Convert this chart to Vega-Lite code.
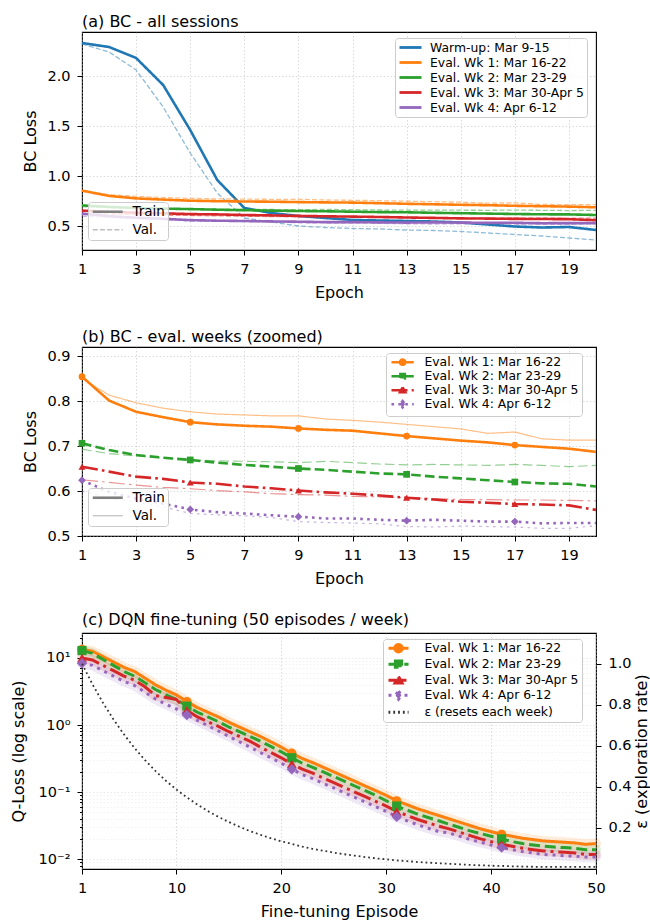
{
  "$schema": "https://vega.github.io/schema/vega-lite/v6.json",
  "background": "white",
  "padding": {"left": 9, "top": 13, "right": 0, "bottom": 5},
  "bounds": "flush",
  "spacing": 97,
  "resolve": {
    "scale": {"color": "independent", "fill": "independent", "stroke": "independent", "shape": "independent", "strokeDash": "independent", "strokeWidth": "independent", "opacity": "independent"},
    "legend": {"color": "independent", "fill": "independent", "stroke": "independent", "shape": "independent", "strokeDash": "independent", "strokeWidth": "independent", "opacity": "independent"}
  },
  "config": {
    "font": "DejaVu Sans",
    "view": {"stroke": "black", "strokeWidth": 1.1},
    "title": {"anchor": "start", "frame": "group", "fontSize": 16, "fontWeight": "normal", "font": "DejaVu Sans", "baseline": "alphabetic", "offset": 2, "color": "black"},
    "axis": {"domain": false, "labelFont": "DejaVu Sans", "labelFontSize": 14.5, "labelColor": "black", "tickColor": "black", "tickSize": 5, "tickWidth": 1, "titleFont": "DejaVu Sans", "titleFontSize": 16, "titleFontWeight": "normal", "titleColor": "black", "gridColor": "#b0b0b0", "gridOpacity": 0.6, "gridDash": [1.5, 2], "gridWidth": 0.8, "labelOverlap": false},
    "axisX": {"labelFlush": false},
    "axisBottom": {"labelBaseline": "alphabetic", "labelPadding": 18.5, "titleBaseline": "alphabetic", "titleY": 47},
    "axisLeft": {"labelPadding": 7, "titleBaseline": "alphabetic", "titleX": -47, "titleAngle": 270},
    "axisRight": {"labelPadding": 7, "titleBaseline": "alphabetic", "titleX": 50, "titleAngle": 270},
    "legend": {"labelFont": "DejaVu Sans", "labelColor": "black", "labelLimit": 300}
  },
  "datasets": {
    "bc": [
      {"week":"Warm-up: Mar 9-15","split":"Train","epoch":1,"loss":2.33},{"week":"Warm-up: Mar 9-15","split":"Train","epoch":2,"loss":2.29},{"week":"Warm-up: Mar 9-15","split":"Train","epoch":3,"loss":2.18},{"week":"Warm-up: Mar 9-15","split":"Train","epoch":4,"loss":1.91},{"week":"Warm-up: Mar 9-15","split":"Train","epoch":5,"loss":1.46},{"week":"Warm-up: Mar 9-15","split":"Train","epoch":6,"loss":0.96},{"week":"Warm-up: Mar 9-15","split":"Train","epoch":7,"loss":0.68},{"week":"Warm-up: Mar 9-15","split":"Train","epoch":8,"loss":0.63},{"week":"Warm-up: Mar 9-15","split":"Train","epoch":9,"loss":0.6},{"week":"Warm-up: Mar 9-15","split":"Train","epoch":10,"loss":0.58},
      {"week":"Warm-up: Mar 9-15","split":"Train","epoch":11,"loss":0.56},{"week":"Warm-up: Mar 9-15","split":"Train","epoch":12,"loss":0.555},{"week":"Warm-up: Mar 9-15","split":"Train","epoch":13,"loss":0.55},{"week":"Warm-up: Mar 9-15","split":"Train","epoch":14,"loss":0.545},{"week":"Warm-up: Mar 9-15","split":"Train","epoch":15,"loss":0.535},{"week":"Warm-up: Mar 9-15","split":"Train","epoch":16,"loss":0.515},{"week":"Warm-up: Mar 9-15","split":"Train","epoch":17,"loss":0.495},{"week":"Warm-up: Mar 9-15","split":"Train","epoch":18,"loss":0.485},{"week":"Warm-up: Mar 9-15","split":"Train","epoch":19,"loss":0.49},{"week":"Warm-up: Mar 9-15","split":"Train","epoch":20,"loss":0.46},
      {"week":"Warm-up: Mar 9-15","split":"Val.","epoch":1,"loss":2.32},{"week":"Warm-up: Mar 9-15","split":"Val.","epoch":2,"loss":2.24},{"week":"Warm-up: Mar 9-15","split":"Val.","epoch":3,"loss":2.06},{"week":"Warm-up: Mar 9-15","split":"Val.","epoch":4,"loss":1.69},{"week":"Warm-up: Mar 9-15","split":"Val.","epoch":5,"loss":1.23},{"week":"Warm-up: Mar 9-15","split":"Val.","epoch":6,"loss":0.83},{"week":"Warm-up: Mar 9-15","split":"Val.","epoch":7,"loss":0.58},{"week":"Warm-up: Mar 9-15","split":"Val.","epoch":8,"loss":0.54},{"week":"Warm-up: Mar 9-15","split":"Val.","epoch":9,"loss":0.5},{"week":"Warm-up: Mar 9-15","split":"Val.","epoch":10,"loss":0.485},
      {"week":"Warm-up: Mar 9-15","split":"Val.","epoch":11,"loss":0.475},{"week":"Warm-up: Mar 9-15","split":"Val.","epoch":12,"loss":0.47},{"week":"Warm-up: Mar 9-15","split":"Val.","epoch":13,"loss":0.46},{"week":"Warm-up: Mar 9-15","split":"Val.","epoch":14,"loss":0.455},{"week":"Warm-up: Mar 9-15","split":"Val.","epoch":15,"loss":0.445},{"week":"Warm-up: Mar 9-15","split":"Val.","epoch":16,"loss":0.43},{"week":"Warm-up: Mar 9-15","split":"Val.","epoch":17,"loss":0.415},{"week":"Warm-up: Mar 9-15","split":"Val.","epoch":18,"loss":0.4},{"week":"Warm-up: Mar 9-15","split":"Val.","epoch":19,"loss":0.38},{"week":"Warm-up: Mar 9-15","split":"Val.","epoch":20,"loss":0.36},
      {"week":"Eval. Wk 1: Mar 16-22","split":"Train","epoch":1,"loss":0.854},{"week":"Eval. Wk 1: Mar 16-22","split":"Train","epoch":2,"loss":0.801},{"week":"Eval. Wk 1: Mar 16-22","split":"Train","epoch":3,"loss":0.776},{"week":"Eval. Wk 1: Mar 16-22","split":"Train","epoch":4,"loss":0.764},{"week":"Eval. Wk 1: Mar 16-22","split":"Train","epoch":5,"loss":0.753},{"week":"Eval. Wk 1: Mar 16-22","split":"Train","epoch":6,"loss":0.748},{"week":"Eval. Wk 1: Mar 16-22","split":"Train","epoch":7,"loss":0.745},{"week":"Eval. Wk 1: Mar 16-22","split":"Train","epoch":8,"loss":0.743},{"week":"Eval. Wk 1: Mar 16-22","split":"Train","epoch":9,"loss":0.739},{"week":"Eval. Wk 1: Mar 16-22","split":"Train","epoch":10,"loss":0.736},
      {"week":"Eval. Wk 1: Mar 16-22","split":"Train","epoch":11,"loss":0.734},{"week":"Eval. Wk 1: Mar 16-22","split":"Train","epoch":12,"loss":0.728},{"week":"Eval. Wk 1: Mar 16-22","split":"Train","epoch":13,"loss":0.722},{"week":"Eval. Wk 1: Mar 16-22","split":"Train","epoch":14,"loss":0.717},{"week":"Eval. Wk 1: Mar 16-22","split":"Train","epoch":15,"loss":0.712},{"week":"Eval. Wk 1: Mar 16-22","split":"Train","epoch":16,"loss":0.708},{"week":"Eval. Wk 1: Mar 16-22","split":"Train","epoch":17,"loss":0.702},{"week":"Eval. Wk 1: Mar 16-22","split":"Train","epoch":18,"loss":0.698},{"week":"Eval. Wk 1: Mar 16-22","split":"Train","epoch":19,"loss":0.694},{"week":"Eval. Wk 1: Mar 16-22","split":"Train","epoch":20,"loss":0.687},
      {"week":"Eval. Wk 1: Mar 16-22","split":"Val.","epoch":1,"loss":0.85},{"week":"Eval. Wk 1: Mar 16-22","split":"Val.","epoch":2,"loss":0.813},{"week":"Eval. Wk 1: Mar 16-22","split":"Val.","epoch":3,"loss":0.796},{"week":"Eval. Wk 1: Mar 16-22","split":"Val.","epoch":4,"loss":0.784},{"week":"Eval. Wk 1: Mar 16-22","split":"Val.","epoch":5,"loss":0.776},{"week":"Eval. Wk 1: Mar 16-22","split":"Val.","epoch":6,"loss":0.771},{"week":"Eval. Wk 1: Mar 16-22","split":"Val.","epoch":7,"loss":0.769},{"week":"Eval. Wk 1: Mar 16-22","split":"Val.","epoch":8,"loss":0.767},{"week":"Eval. Wk 1: Mar 16-22","split":"Val.","epoch":9,"loss":0.767},{"week":"Eval. Wk 1: Mar 16-22","split":"Val.","epoch":10,"loss":0.76},
      {"week":"Eval. Wk 1: Mar 16-22","split":"Val.","epoch":11,"loss":0.757},{"week":"Eval. Wk 1: Mar 16-22","split":"Val.","epoch":12,"loss":0.753},{"week":"Eval. Wk 1: Mar 16-22","split":"Val.","epoch":13,"loss":0.748},{"week":"Eval. Wk 1: Mar 16-22","split":"Val.","epoch":14,"loss":0.743},{"week":"Eval. Wk 1: Mar 16-22","split":"Val.","epoch":15,"loss":0.738},{"week":"Eval. Wk 1: Mar 16-22","split":"Val.","epoch":16,"loss":0.728},{"week":"Eval. Wk 1: Mar 16-22","split":"Val.","epoch":17,"loss":0.731},{"week":"Eval. Wk 1: Mar 16-22","split":"Val.","epoch":18,"loss":0.716},{"week":"Eval. Wk 1: Mar 16-22","split":"Val.","epoch":19,"loss":0.713},{"week":"Eval. Wk 1: Mar 16-22","split":"Val.","epoch":20,"loss":0.713},
      {"week":"Eval. Wk 2: Mar 23-29","split":"Train","epoch":1,"loss":0.706},{"week":"Eval. Wk 2: Mar 23-29","split":"Train","epoch":2,"loss":0.691},{"week":"Eval. Wk 2: Mar 23-29","split":"Train","epoch":3,"loss":0.68},{"week":"Eval. Wk 2: Mar 23-29","split":"Train","epoch":4,"loss":0.674},{"week":"Eval. Wk 2: Mar 23-29","split":"Train","epoch":5,"loss":0.669},{"week":"Eval. Wk 2: Mar 23-29","split":"Train","epoch":6,"loss":0.663},{"week":"Eval. Wk 2: Mar 23-29","split":"Train","epoch":7,"loss":0.658},{"week":"Eval. Wk 2: Mar 23-29","split":"Train","epoch":8,"loss":0.654},{"week":"Eval. Wk 2: Mar 23-29","split":"Train","epoch":9,"loss":0.65},{"week":"Eval. Wk 2: Mar 23-29","split":"Train","epoch":10,"loss":0.647},
      {"week":"Eval. Wk 2: Mar 23-29","split":"Train","epoch":11,"loss":0.643},{"week":"Eval. Wk 2: Mar 23-29","split":"Train","epoch":12,"loss":0.639},{"week":"Eval. Wk 2: Mar 23-29","split":"Train","epoch":13,"loss":0.637},{"week":"Eval. Wk 2: Mar 23-29","split":"Train","epoch":14,"loss":0.632},{"week":"Eval. Wk 2: Mar 23-29","split":"Train","epoch":15,"loss":0.628},{"week":"Eval. Wk 2: Mar 23-29","split":"Train","epoch":16,"loss":0.624},{"week":"Eval. Wk 2: Mar 23-29","split":"Train","epoch":17,"loss":0.62},{"week":"Eval. Wk 2: Mar 23-29","split":"Train","epoch":18,"loss":0.617},{"week":"Eval. Wk 2: Mar 23-29","split":"Train","epoch":19,"loss":0.616},{"week":"Eval. Wk 2: Mar 23-29","split":"Train","epoch":20,"loss":0.61},
      {"week":"Eval. Wk 2: Mar 23-29","split":"Val.","epoch":1,"loss":0.693},{"week":"Eval. Wk 2: Mar 23-29","split":"Val.","epoch":2,"loss":0.683},{"week":"Eval. Wk 2: Mar 23-29","split":"Val.","epoch":3,"loss":0.678},{"week":"Eval. Wk 2: Mar 23-29","split":"Val.","epoch":4,"loss":0.673},{"week":"Eval. Wk 2: Mar 23-29","split":"Val.","epoch":5,"loss":0.669},{"week":"Eval. Wk 2: Mar 23-29","split":"Val.","epoch":6,"loss":0.667},{"week":"Eval. Wk 2: Mar 23-29","split":"Val.","epoch":7,"loss":0.666},{"week":"Eval. Wk 2: Mar 23-29","split":"Val.","epoch":8,"loss":0.665},{"week":"Eval. Wk 2: Mar 23-29","split":"Val.","epoch":9,"loss":0.663},{"week":"Eval. Wk 2: Mar 23-29","split":"Val.","epoch":10,"loss":0.666},
      {"week":"Eval. Wk 2: Mar 23-29","split":"Val.","epoch":11,"loss":0.663},{"week":"Eval. Wk 2: Mar 23-29","split":"Val.","epoch":12,"loss":0.66},{"week":"Eval. Wk 2: Mar 23-29","split":"Val.","epoch":13,"loss":0.658},{"week":"Eval. Wk 2: Mar 23-29","split":"Val.","epoch":14,"loss":0.659},{"week":"Eval. Wk 2: Mar 23-29","split":"Val.","epoch":15,"loss":0.658},{"week":"Eval. Wk 2: Mar 23-29","split":"Val.","epoch":16,"loss":0.657},{"week":"Eval. Wk 2: Mar 23-29","split":"Val.","epoch":17,"loss":0.659},{"week":"Eval. Wk 2: Mar 23-29","split":"Val.","epoch":18,"loss":0.657},{"week":"Eval. Wk 2: Mar 23-29","split":"Val.","epoch":19,"loss":0.654},{"week":"Eval. Wk 2: Mar 23-29","split":"Val.","epoch":20,"loss":0.657},
      {"week":"Eval. Wk 3: Mar 30-Apr 5","split":"Train","epoch":1,"loss":0.654},{"week":"Eval. Wk 3: Mar 30-Apr 5","split":"Train","epoch":2,"loss":0.643},{"week":"Eval. Wk 3: Mar 30-Apr 5","split":"Train","epoch":3,"loss":0.632},{"week":"Eval. Wk 3: Mar 30-Apr 5","split":"Train","epoch":4,"loss":0.627},{"week":"Eval. Wk 3: Mar 30-Apr 5","split":"Train","epoch":5,"loss":0.619},{"week":"Eval. Wk 3: Mar 30-Apr 5","split":"Train","epoch":6,"loss":0.616},{"week":"Eval. Wk 3: Mar 30-Apr 5","split":"Train","epoch":7,"loss":0.61},{"week":"Eval. Wk 3: Mar 30-Apr 5","split":"Train","epoch":8,"loss":0.606},{"week":"Eval. Wk 3: Mar 30-Apr 5","split":"Train","epoch":9,"loss":0.601},{"week":"Eval. Wk 3: Mar 30-Apr 5","split":"Train","epoch":10,"loss":0.597},
      {"week":"Eval. Wk 3: Mar 30-Apr 5","split":"Train","epoch":11,"loss":0.594},{"week":"Eval. Wk 3: Mar 30-Apr 5","split":"Train","epoch":12,"loss":0.59},{"week":"Eval. Wk 3: Mar 30-Apr 5","split":"Train","epoch":13,"loss":0.585},{"week":"Eval. Wk 3: Mar 30-Apr 5","split":"Train","epoch":14,"loss":0.581},{"week":"Eval. Wk 3: Mar 30-Apr 5","split":"Train","epoch":15,"loss":0.576},{"week":"Eval. Wk 3: Mar 30-Apr 5","split":"Train","epoch":16,"loss":0.574},{"week":"Eval. Wk 3: Mar 30-Apr 5","split":"Train","epoch":17,"loss":0.571},{"week":"Eval. Wk 3: Mar 30-Apr 5","split":"Train","epoch":18,"loss":0.57},{"week":"Eval. Wk 3: Mar 30-Apr 5","split":"Train","epoch":19,"loss":0.568},{"week":"Eval. Wk 3: Mar 30-Apr 5","split":"Train","epoch":20,"loss":0.558},
      {"week":"Eval. Wk 3: Mar 30-Apr 5","split":"Val.","epoch":1,"loss":0.625},{"week":"Eval. Wk 3: Mar 30-Apr 5","split":"Val.","epoch":2,"loss":0.619},{"week":"Eval. Wk 3: Mar 30-Apr 5","split":"Val.","epoch":3,"loss":0.613},{"week":"Eval. Wk 3: Mar 30-Apr 5","split":"Val.","epoch":4,"loss":0.608},{"week":"Eval. Wk 3: Mar 30-Apr 5","split":"Val.","epoch":5,"loss":0.605},{"week":"Eval. Wk 3: Mar 30-Apr 5","split":"Val.","epoch":6,"loss":0.601},{"week":"Eval. Wk 3: Mar 30-Apr 5","split":"Val.","epoch":7,"loss":0.598},{"week":"Eval. Wk 3: Mar 30-Apr 5","split":"Val.","epoch":8,"loss":0.594},{"week":"Eval. Wk 3: Mar 30-Apr 5","split":"Val.","epoch":9,"loss":0.592},{"week":"Eval. Wk 3: Mar 30-Apr 5","split":"Val.","epoch":10,"loss":0.591},
      {"week":"Eval. Wk 3: Mar 30-Apr 5","split":"Val.","epoch":11,"loss":0.588},{"week":"Eval. Wk 3: Mar 30-Apr 5","split":"Val.","epoch":12,"loss":0.587},{"week":"Eval. Wk 3: Mar 30-Apr 5","split":"Val.","epoch":13,"loss":0.585},{"week":"Eval. Wk 3: Mar 30-Apr 5","split":"Val.","epoch":14,"loss":0.583},{"week":"Eval. Wk 3: Mar 30-Apr 5","split":"Val.","epoch":15,"loss":0.581},{"week":"Eval. Wk 3: Mar 30-Apr 5","split":"Val.","epoch":16,"loss":0.581},{"week":"Eval. Wk 3: Mar 30-Apr 5","split":"Val.","epoch":17,"loss":0.58},{"week":"Eval. Wk 3: Mar 30-Apr 5","split":"Val.","epoch":18,"loss":0.58},{"week":"Eval. Wk 3: Mar 30-Apr 5","split":"Val.","epoch":19,"loss":0.579},{"week":"Eval. Wk 3: Mar 30-Apr 5","split":"Val.","epoch":20,"loss":0.578},
      {"week":"Eval. Wk 4: Apr 6-12","split":"Train","epoch":1,"loss":0.624},{"week":"Eval. Wk 4: Apr 6-12","split":"Train","epoch":2,"loss":0.598},{"week":"Eval. Wk 4: Apr 6-12","split":"Train","epoch":3,"loss":0.583},{"week":"Eval. Wk 4: Apr 6-12","split":"Train","epoch":4,"loss":0.572},{"week":"Eval. Wk 4: Apr 6-12","split":"Train","epoch":5,"loss":0.559},{"week":"Eval. Wk 4: Apr 6-12","split":"Train","epoch":6,"loss":0.553},{"week":"Eval. Wk 4: Apr 6-12","split":"Train","epoch":7,"loss":0.55},{"week":"Eval. Wk 4: Apr 6-12","split":"Train","epoch":8,"loss":0.546},{"week":"Eval. Wk 4: Apr 6-12","split":"Train","epoch":9,"loss":0.543},{"week":"Eval. Wk 4: Apr 6-12","split":"Train","epoch":10,"loss":0.539},
      {"week":"Eval. Wk 4: Apr 6-12","split":"Train","epoch":11,"loss":0.539},{"week":"Eval. Wk 4: Apr 6-12","split":"Train","epoch":12,"loss":0.536},{"week":"Eval. Wk 4: Apr 6-12","split":"Train","epoch":13,"loss":0.534},{"week":"Eval. Wk 4: Apr 6-12","split":"Train","epoch":14,"loss":0.536},{"week":"Eval. Wk 4: Apr 6-12","split":"Train","epoch":15,"loss":0.534},{"week":"Eval. Wk 4: Apr 6-12","split":"Train","epoch":16,"loss":0.532},{"week":"Eval. Wk 4: Apr 6-12","split":"Train","epoch":17,"loss":0.532},{"week":"Eval. Wk 4: Apr 6-12","split":"Train","epoch":18,"loss":0.528},{"week":"Eval. Wk 4: Apr 6-12","split":"Train","epoch":19,"loss":0.529},{"week":"Eval. Wk 4: Apr 6-12","split":"Train","epoch":20,"loss":0.529},
      {"week":"Eval. Wk 4: Apr 6-12","split":"Val.","epoch":1,"loss":0.6},{"week":"Eval. Wk 4: Apr 6-12","split":"Val.","epoch":2,"loss":0.585},{"week":"Eval. Wk 4: Apr 6-12","split":"Val.","epoch":3,"loss":0.575},{"week":"Eval. Wk 4: Apr 6-12","split":"Val.","epoch":4,"loss":0.565},{"week":"Eval. Wk 4: Apr 6-12","split":"Val.","epoch":5,"loss":0.55},{"week":"Eval. Wk 4: Apr 6-12","split":"Val.","epoch":6,"loss":0.547},{"week":"Eval. Wk 4: Apr 6-12","split":"Val.","epoch":7,"loss":0.545},{"week":"Eval. Wk 4: Apr 6-12","split":"Val.","epoch":8,"loss":0.541},{"week":"Eval. Wk 4: Apr 6-12","split":"Val.","epoch":9,"loss":0.532},{"week":"Eval. Wk 4: Apr 6-12","split":"Val.","epoch":10,"loss":0.53},
      {"week":"Eval. Wk 4: Apr 6-12","split":"Val.","epoch":11,"loss":0.529},{"week":"Eval. Wk 4: Apr 6-12","split":"Val.","epoch":12,"loss":0.527},{"week":"Eval. Wk 4: Apr 6-12","split":"Val.","epoch":13,"loss":0.521},{"week":"Eval. Wk 4: Apr 6-12","split":"Val.","epoch":14,"loss":0.52},{"week":"Eval. Wk 4: Apr 6-12","split":"Val.","epoch":15,"loss":0.522},{"week":"Eval. Wk 4: Apr 6-12","split":"Val.","epoch":16,"loss":0.521},{"week":"Eval. Wk 4: Apr 6-12","split":"Val.","epoch":17,"loss":0.52},{"week":"Eval. Wk 4: Apr 6-12","split":"Val.","epoch":18,"loss":0.517},{"week":"Eval. Wk 4: Apr 6-12","split":"Val.","epoch":19,"loss":0.517},{"week":"Eval. Wk 4: Apr 6-12","split":"Val.","epoch":20,"loss":0.523}
    ],
    "q": [
      {"week":"Eval. Wk 1: Mar 16-22","episode":1,"qloss":13.5},{"week":"Eval. Wk 1: Mar 16-22","episode":2,"qloss":12.6},{"week":"Eval. Wk 1: Mar 16-22","episode":3,"qloss":10.5},{"week":"Eval. Wk 1: Mar 16-22","episode":4,"qloss":8.71},{"week":"Eval. Wk 1: Mar 16-22","episode":5,"qloss":7.24},{"week":"Eval. Wk 1: Mar 16-22","episode":6,"qloss":6.31},{"week":"Eval. Wk 1: Mar 16-22","episode":7,"qloss":5.01},{"week":"Eval. Wk 1: Mar 16-22","episode":8,"qloss":3.98},{"week":"Eval. Wk 1: Mar 16-22","episode":9,"qloss":3.31},{"week":"Eval. Wk 1: Mar 16-22","episode":10,"qloss":2.82},
      {"week":"Eval. Wk 1: Mar 16-22","episode":11,"qloss":2.24},{"week":"Eval. Wk 1: Mar 16-22","episode":12,"qloss":1.82},{"week":"Eval. Wk 1: Mar 16-22","episode":13,"qloss":1.55},{"week":"Eval. Wk 1: Mar 16-22","episode":14,"qloss":1.32},{"week":"Eval. Wk 1: Mar 16-22","episode":15,"qloss":1.1},{"week":"Eval. Wk 1: Mar 16-22","episode":16,"qloss":0.933},{"week":"Eval. Wk 1: Mar 16-22","episode":17,"qloss":0.794},{"week":"Eval. Wk 1: Mar 16-22","episode":18,"qloss":0.676},{"week":"Eval. Wk 1: Mar 16-22","episode":19,"qloss":0.562},{"week":"Eval. Wk 1: Mar 16-22","episode":20,"qloss":0.468},
      {"week":"Eval. Wk 1: Mar 16-22","episode":21,"qloss":0.38},{"week":"Eval. Wk 1: Mar 16-22","episode":22,"qloss":0.316},{"week":"Eval. Wk 1: Mar 16-22","episode":23,"qloss":0.275},{"week":"Eval. Wk 1: Mar 16-22","episode":24,"qloss":0.234},{"week":"Eval. Wk 1: Mar 16-22","episode":25,"qloss":0.2},{"week":"Eval. Wk 1: Mar 16-22","episode":26,"qloss":0.17},{"week":"Eval. Wk 1: Mar 16-22","episode":27,"qloss":0.145},{"week":"Eval. Wk 1: Mar 16-22","episode":28,"qloss":0.123},{"week":"Eval. Wk 1: Mar 16-22","episode":29,"qloss":0.105},{"week":"Eval. Wk 1: Mar 16-22","episode":30,"qloss":0.0891},
      {"week":"Eval. Wk 1: Mar 16-22","episode":31,"qloss":0.0741},{"week":"Eval. Wk 1: Mar 16-22","episode":32,"qloss":0.0646},{"week":"Eval. Wk 1: Mar 16-22","episode":33,"qloss":0.0562},{"week":"Eval. Wk 1: Mar 16-22","episode":34,"qloss":0.0501},{"week":"Eval. Wk 1: Mar 16-22","episode":35,"qloss":0.0447},{"week":"Eval. Wk 1: Mar 16-22","episode":36,"qloss":0.0398},{"week":"Eval. Wk 1: Mar 16-22","episode":37,"qloss":0.0355},{"week":"Eval. Wk 1: Mar 16-22","episode":38,"qloss":0.0316},{"week":"Eval. Wk 1: Mar 16-22","episode":39,"qloss":0.0282},{"week":"Eval. Wk 1: Mar 16-22","episode":40,"qloss":0.0257},
      {"week":"Eval. Wk 1: Mar 16-22","episode":41,"qloss":0.0234},{"week":"Eval. Wk 1: Mar 16-22","episode":42,"qloss":0.0219},{"week":"Eval. Wk 1: Mar 16-22","episode":43,"qloss":0.0204},{"week":"Eval. Wk 1: Mar 16-22","episode":44,"qloss":0.0195},{"week":"Eval. Wk 1: Mar 16-22","episode":45,"qloss":0.0186},{"week":"Eval. Wk 1: Mar 16-22","episode":46,"qloss":0.0182},{"week":"Eval. Wk 1: Mar 16-22","episode":47,"qloss":0.0178},{"week":"Eval. Wk 1: Mar 16-22","episode":48,"qloss":0.0174},{"week":"Eval. Wk 1: Mar 16-22","episode":49,"qloss":0.0166},{"week":"Eval. Wk 1: Mar 16-22","episode":50,"qloss":0.017},
      {"week":"Eval. Wk 2: Mar 23-29","episode":1,"qloss":12.9},{"week":"Eval. Wk 2: Mar 23-29","episode":2,"qloss":11.7},{"week":"Eval. Wk 2: Mar 23-29","episode":3,"qloss":9.55},{"week":"Eval. Wk 2: Mar 23-29","episode":4,"qloss":7.76},{"week":"Eval. Wk 2: Mar 23-29","episode":5,"qloss":6.31},{"week":"Eval. Wk 2: Mar 23-29","episode":6,"qloss":5.37},{"week":"Eval. Wk 2: Mar 23-29","episode":7,"qloss":4.27},{"week":"Eval. Wk 2: Mar 23-29","episode":8,"qloss":3.39},{"week":"Eval. Wk 2: Mar 23-29","episode":9,"qloss":2.82},{"week":"Eval. Wk 2: Mar 23-29","episode":10,"qloss":2.4},
      {"week":"Eval. Wk 2: Mar 23-29","episode":11,"qloss":1.91},{"week":"Eval. Wk 2: Mar 23-29","episode":12,"qloss":1.55},{"week":"Eval. Wk 2: Mar 23-29","episode":13,"qloss":1.32},{"week":"Eval. Wk 2: Mar 23-29","episode":14,"qloss":1.12},{"week":"Eval. Wk 2: Mar 23-29","episode":15,"qloss":0.933},{"week":"Eval. Wk 2: Mar 23-29","episode":16,"qloss":0.794},{"week":"Eval. Wk 2: Mar 23-29","episode":17,"qloss":0.676},{"week":"Eval. Wk 2: Mar 23-29","episode":18,"qloss":0.575},{"week":"Eval. Wk 2: Mar 23-29","episode":19,"qloss":0.479},{"week":"Eval. Wk 2: Mar 23-29","episode":20,"qloss":0.398},
      {"week":"Eval. Wk 2: Mar 23-29","episode":21,"qloss":0.324},{"week":"Eval. Wk 2: Mar 23-29","episode":22,"qloss":0.269},{"week":"Eval. Wk 2: Mar 23-29","episode":23,"qloss":0.234},{"week":"Eval. Wk 2: Mar 23-29","episode":24,"qloss":0.2},{"week":"Eval. Wk 2: Mar 23-29","episode":25,"qloss":0.17},{"week":"Eval. Wk 2: Mar 23-29","episode":26,"qloss":0.145},{"week":"Eval. Wk 2: Mar 23-29","episode":27,"qloss":0.123},{"week":"Eval. Wk 2: Mar 23-29","episode":28,"qloss":0.105},{"week":"Eval. Wk 2: Mar 23-29","episode":29,"qloss":0.0891},{"week":"Eval. Wk 2: Mar 23-29","episode":30,"qloss":0.0741},
      {"week":"Eval. Wk 2: Mar 23-29","episode":31,"qloss":0.0617},{"week":"Eval. Wk 2: Mar 23-29","episode":32,"qloss":0.0537},{"week":"Eval. Wk 2: Mar 23-29","episode":33,"qloss":0.0468},{"week":"Eval. Wk 2: Mar 23-29","episode":34,"qloss":0.0417},{"week":"Eval. Wk 2: Mar 23-29","episode":35,"qloss":0.0372},{"week":"Eval. Wk 2: Mar 23-29","episode":36,"qloss":0.0331},{"week":"Eval. Wk 2: Mar 23-29","episode":37,"qloss":0.0295},{"week":"Eval. Wk 2: Mar 23-29","episode":38,"qloss":0.0263},{"week":"Eval. Wk 2: Mar 23-29","episode":39,"qloss":0.024},{"week":"Eval. Wk 2: Mar 23-29","episode":40,"qloss":0.0219},
      {"week":"Eval. Wk 2: Mar 23-29","episode":41,"qloss":0.02},{"week":"Eval. Wk 2: Mar 23-29","episode":42,"qloss":0.0182},{"week":"Eval. Wk 2: Mar 23-29","episode":43,"qloss":0.017},{"week":"Eval. Wk 2: Mar 23-29","episode":44,"qloss":0.0162},{"week":"Eval. Wk 2: Mar 23-29","episode":45,"qloss":0.0155},{"week":"Eval. Wk 2: Mar 23-29","episode":46,"qloss":0.0151},{"week":"Eval. Wk 2: Mar 23-29","episode":47,"qloss":0.0148},{"week":"Eval. Wk 2: Mar 23-29","episode":48,"qloss":0.0145},{"week":"Eval. Wk 2: Mar 23-29","episode":49,"qloss":0.0138},{"week":"Eval. Wk 2: Mar 23-29","episode":50,"qloss":0.0138},
      {"week":"Eval. Wk 3: Mar 30-Apr 5","episode":1,"qloss":10.0},{"week":"Eval. Wk 3: Mar 30-Apr 5","episode":2,"qloss":9.33},{"week":"Eval. Wk 3: Mar 30-Apr 5","episode":3,"qloss":7.76},{"week":"Eval. Wk 3: Mar 30-Apr 5","episode":4,"qloss":6.46},{"week":"Eval. Wk 3: Mar 30-Apr 5","episode":5,"qloss":5.37},{"week":"Eval. Wk 3: Mar 30-Apr 5","episode":6,"qloss":4.68},{"week":"Eval. Wk 3: Mar 30-Apr 5","episode":7,"qloss":3.72},{"week":"Eval. Wk 3: Mar 30-Apr 5","episode":8,"qloss":2.75},{"week":"Eval. Wk 3: Mar 30-Apr 5","episode":9,"qloss":2.57},{"week":"Eval. Wk 3: Mar 30-Apr 5","episode":10,"qloss":2.4},
      {"week":"Eval. Wk 3: Mar 30-Apr 5","episode":11,"qloss":1.66},{"week":"Eval. Wk 3: Mar 30-Apr 5","episode":12,"qloss":1.32},{"week":"Eval. Wk 3: Mar 30-Apr 5","episode":13,"qloss":1.12},{"week":"Eval. Wk 3: Mar 30-Apr 5","episode":14,"qloss":0.955},{"week":"Eval. Wk 3: Mar 30-Apr 5","episode":15,"qloss":0.794},{"week":"Eval. Wk 3: Mar 30-Apr 5","episode":16,"qloss":0.676},{"week":"Eval. Wk 3: Mar 30-Apr 5","episode":17,"qloss":0.575},{"week":"Eval. Wk 3: Mar 30-Apr 5","episode":18,"qloss":0.468},{"week":"Eval. Wk 3: Mar 30-Apr 5","episode":19,"qloss":0.389},{"week":"Eval. Wk 3: Mar 30-Apr 5","episode":20,"qloss":0.324},
      {"week":"Eval. Wk 3: Mar 30-Apr 5","episode":21,"qloss":0.263},{"week":"Eval. Wk 3: Mar 30-Apr 5","episode":22,"qloss":0.219},{"week":"Eval. Wk 3: Mar 30-Apr 5","episode":23,"qloss":0.191},{"week":"Eval. Wk 3: Mar 30-Apr 5","episode":24,"qloss":0.162},{"week":"Eval. Wk 3: Mar 30-Apr 5","episode":25,"qloss":0.138},{"week":"Eval. Wk 3: Mar 30-Apr 5","episode":26,"qloss":0.117},{"week":"Eval. Wk 3: Mar 30-Apr 5","episode":27,"qloss":0.1},{"week":"Eval. Wk 3: Mar 30-Apr 5","episode":28,"qloss":0.0851},{"week":"Eval. Wk 3: Mar 30-Apr 5","episode":29,"qloss":0.0724},{"week":"Eval. Wk 3: Mar 30-Apr 5","episode":30,"qloss":0.0617},
      {"week":"Eval. Wk 3: Mar 30-Apr 5","episode":31,"qloss":0.0513},{"week":"Eval. Wk 3: Mar 30-Apr 5","episode":32,"qloss":0.0447},{"week":"Eval. Wk 3: Mar 30-Apr 5","episode":33,"qloss":0.0389},{"week":"Eval. Wk 3: Mar 30-Apr 5","episode":34,"qloss":0.0347},{"week":"Eval. Wk 3: Mar 30-Apr 5","episode":35,"qloss":0.0309},{"week":"Eval. Wk 3: Mar 30-Apr 5","episode":36,"qloss":0.0282},{"week":"Eval. Wk 3: Mar 30-Apr 5","episode":37,"qloss":0.0251},{"week":"Eval. Wk 3: Mar 30-Apr 5","episode":38,"qloss":0.0224},{"week":"Eval. Wk 3: Mar 30-Apr 5","episode":39,"qloss":0.02},{"week":"Eval. Wk 3: Mar 30-Apr 5","episode":40,"qloss":0.0182},
      {"week":"Eval. Wk 3: Mar 30-Apr 5","episode":41,"qloss":0.0166},{"week":"Eval. Wk 3: Mar 30-Apr 5","episode":42,"qloss":0.0155},{"week":"Eval. Wk 3: Mar 30-Apr 5","episode":43,"qloss":0.0145},{"week":"Eval. Wk 3: Mar 30-Apr 5","episode":44,"qloss":0.0138},{"week":"Eval. Wk 3: Mar 30-Apr 5","episode":45,"qloss":0.0132},{"week":"Eval. Wk 3: Mar 30-Apr 5","episode":46,"qloss":0.0129},{"week":"Eval. Wk 3: Mar 30-Apr 5","episode":47,"qloss":0.0126},{"week":"Eval. Wk 3: Mar 30-Apr 5","episode":48,"qloss":0.0123},{"week":"Eval. Wk 3: Mar 30-Apr 5","episode":49,"qloss":0.0117},{"week":"Eval. Wk 3: Mar 30-Apr 5","episode":50,"qloss":0.0117},
      {"week":"Eval. Wk 4: Apr 6-12","episode":1,"qloss":8.32},{"week":"Eval. Wk 4: Apr 6-12","episode":2,"qloss":7.76},{"week":"Eval. Wk 4: Apr 6-12","episode":3,"qloss":6.46},{"week":"Eval. Wk 4: Apr 6-12","episode":4,"qloss":5.37},{"week":"Eval. Wk 4: Apr 6-12","episode":5,"qloss":4.47},{"week":"Eval. Wk 4: Apr 6-12","episode":6,"qloss":3.89},{"week":"Eval. Wk 4: Apr 6-12","episode":7,"qloss":3.09},{"week":"Eval. Wk 4: Apr 6-12","episode":8,"qloss":2.45},{"week":"Eval. Wk 4: Apr 6-12","episode":9,"qloss":2.04},{"week":"Eval. Wk 4: Apr 6-12","episode":10,"qloss":1.74},
      {"week":"Eval. Wk 4: Apr 6-12","episode":11,"qloss":1.41},{"week":"Eval. Wk 4: Apr 6-12","episode":12,"qloss":1.17},{"week":"Eval. Wk 4: Apr 6-12","episode":13,"qloss":0.977},{"week":"Eval. Wk 4: Apr 6-12","episode":14,"qloss":0.813},{"week":"Eval. Wk 4: Apr 6-12","episode":15,"qloss":0.676},{"week":"Eval. Wk 4: Apr 6-12","episode":16,"qloss":0.562},{"week":"Eval. Wk 4: Apr 6-12","episode":17,"qloss":0.468},{"week":"Eval. Wk 4: Apr 6-12","episode":18,"qloss":0.389},{"week":"Eval. Wk 4: Apr 6-12","episode":19,"qloss":0.324},{"week":"Eval. Wk 4: Apr 6-12","episode":20,"qloss":0.269},
      {"week":"Eval. Wk 4: Apr 6-12","episode":21,"qloss":0.219},{"week":"Eval. Wk 4: Apr 6-12","episode":22,"qloss":0.182},{"week":"Eval. Wk 4: Apr 6-12","episode":23,"qloss":0.158},{"week":"Eval. Wk 4: Apr 6-12","episode":24,"qloss":0.135},{"week":"Eval. Wk 4: Apr 6-12","episode":25,"qloss":0.115},{"week":"Eval. Wk 4: Apr 6-12","episode":26,"qloss":0.0977},{"week":"Eval. Wk 4: Apr 6-12","episode":27,"qloss":0.0832},{"week":"Eval. Wk 4: Apr 6-12","episode":28,"qloss":0.0708},{"week":"Eval. Wk 4: Apr 6-12","episode":29,"qloss":0.0603},{"week":"Eval. Wk 4: Apr 6-12","episode":30,"qloss":0.0513},
      {"week":"Eval. Wk 4: Apr 6-12","episode":31,"qloss":0.0427},{"week":"Eval. Wk 4: Apr 6-12","episode":32,"qloss":0.0372},{"week":"Eval. Wk 4: Apr 6-12","episode":33,"qloss":0.0324},{"week":"Eval. Wk 4: Apr 6-12","episode":34,"qloss":0.0288},{"week":"Eval. Wk 4: Apr 6-12","episode":35,"qloss":0.0257},{"week":"Eval. Wk 4: Apr 6-12","episode":36,"qloss":0.0245},{"week":"Eval. Wk 4: Apr 6-12","episode":37,"qloss":0.0219},{"week":"Eval. Wk 4: Apr 6-12","episode":38,"qloss":0.0195},{"week":"Eval. Wk 4: Apr 6-12","episode":39,"qloss":0.0178},{"week":"Eval. Wk 4: Apr 6-12","episode":40,"qloss":0.0162},
      {"week":"Eval. Wk 4: Apr 6-12","episode":41,"qloss":0.0148},{"week":"Eval. Wk 4: Apr 6-12","episode":42,"qloss":0.0138},{"week":"Eval. Wk 4: Apr 6-12","episode":43,"qloss":0.0129},{"week":"Eval. Wk 4: Apr 6-12","episode":44,"qloss":0.0123},{"week":"Eval. Wk 4: Apr 6-12","episode":45,"qloss":0.0117},{"week":"Eval. Wk 4: Apr 6-12","episode":46,"qloss":0.0115},{"week":"Eval. Wk 4: Apr 6-12","episode":47,"qloss":0.0112},{"week":"Eval. Wk 4: Apr 6-12","episode":48,"qloss":0.011},{"week":"Eval. Wk 4: Apr 6-12","episode":49,"qloss":0.0107},{"week":"Eval. Wk 4: Apr 6-12","episode":50,"qloss":0.0107}
    ],
    "eps": [
      {"episode":1,"eps":1.0},{"episode":2,"eps":0.9},{"episode":3,"eps":0.81},{"episode":4,"eps":0.729},{"episode":5,"eps":0.656},{"episode":6,"eps":0.59},{"episode":7,"eps":0.531},{"episode":8,"eps":0.478},{"episode":9,"eps":0.43},{"episode":10,"eps":0.387},
      {"episode":11,"eps":0.349},{"episode":12,"eps":0.314},{"episode":13,"eps":0.282},{"episode":14,"eps":0.254},{"episode":15,"eps":0.229},{"episode":16,"eps":0.206},{"episode":17,"eps":0.185},{"episode":18,"eps":0.167},{"episode":19,"eps":0.15},{"episode":20,"eps":0.135},
      {"episode":21,"eps":0.122},{"episode":22,"eps":0.109},{"episode":23,"eps":0.098},{"episode":24,"eps":0.089},{"episode":25,"eps":0.08},{"episode":26,"eps":0.072},{"episode":27,"eps":0.065},{"episode":28,"eps":0.058},{"episode":29,"eps":0.052},{"episode":30,"eps":0.047},
      {"episode":31,"eps":0.042},{"episode":32,"eps":0.038},{"episode":33,"eps":0.034},{"episode":34,"eps":0.031},{"episode":35,"eps":0.028},{"episode":36,"eps":0.025},{"episode":37,"eps":0.023},{"episode":38,"eps":0.02},{"episode":39,"eps":0.018},{"episode":40,"eps":0.016},
      {"episode":41,"eps":0.015},{"episode":42,"eps":0.013},{"episode":43,"eps":0.012},{"episode":44,"eps":0.011},{"episode":45,"eps":0.01},{"episode":46,"eps":0.01},{"episode":47,"eps":0.01},{"episode":48,"eps":0.01},{"episode":49,"eps":0.01},{"episode":50,"eps":0.01}
    ]
  },
  "vconcat": [
    {
      "width": 514,
      "height": 218,
      "title": {"text": "(a) BC - all sessions"},
      "data": {"name": "bc"},
      "mark": {"type": "line", "strokeJoin": "round"},
      "encoding": {
        "x": {"field": "epoch", "type": "quantitative", "scale": {"domain": [1, 20], "nice": false, "zero": false}, "axis": {"values": [1, 3, 5, 7, 9, 11, 13, 15, 17, 19], "title": "Epoch"}},
        "y": {"field": "loss", "type": "quantitative", "scale": {"domain": [0.26, 2.44], "nice": false, "zero": false}, "axis": {"values": [0.5, 1.0, 1.5, 2.0], "format": ".1f", "title": "BC Loss"}},
        "color": {"field": "week", "type": "nominal",
          "scale": {"domain": ["Warm-up: Mar 9-15", "Eval. Wk 1: Mar 16-22", "Eval. Wk 2: Mar 23-29", "Eval. Wk 3: Mar 30-Apr 5", "Eval. Wk 4: Apr 6-12"], "range": ["#1f77b4", "#ff7f0e", "#2ca02c", "#d62728", "#9467bd"]},
          "legend": {"title": null, "orient": "none", "legendX": 313, "legendY": 6, "symbolType": "M-1,0H3.4", "symbolSize": 100, "symbolStrokeWidth": 2.8, "labelFontSize": 12.4, "labelOffset": 19, "rowPadding": 2, "padding": 3, "fillColor": "rgba(255,255,255,0.8)", "strokeColor": "#cccccc", "cornerRadius": 3}},
        "strokeDash": {"field": "split", "type": "nominal", "scale": {"domain": ["Train", "Val."], "range": [[1, 0], [5, 2.2]]},
          "legend": {"title": null, "orient": "none", "legendX": 6, "legendY": 170, "symbolType": "M-1,0H5", "symbolSize": 100, "symbolStrokeColor": "#7f7f7f", "labelFontSize": 13.5, "labelOffset": 28, "rowPadding": 3, "padding": 3, "fillColor": "rgba(255,255,255,0.8)", "strokeColor": "#cccccc", "cornerRadius": 3}},
        "strokeWidth": {"field": "split", "type": "ordinal", "scale": {"domain": ["Train", "Val."], "range": [2.6, 1.3]},
          "legend": {"title": null, "orient": "none", "legendX": 6, "legendY": 170, "symbolType": "M-1,0H5", "symbolSize": 100, "symbolStrokeColor": "#7f7f7f", "labelFontSize": 13.5, "labelOffset": 28, "rowPadding": 3, "padding": 3, "fillColor": "rgba(255,255,255,0.8)", "strokeColor": "#cccccc", "cornerRadius": 3}},
        "opacity": {"field": "split", "type": "ordinal", "scale": {"domain": ["Train", "Val."], "range": [1, 0.5]},
          "legend": {"title": null, "orient": "none", "legendX": 6, "legendY": 170, "symbolType": "M-1,0H5", "symbolSize": 100, "symbolStrokeColor": "#7f7f7f", "labelFontSize": 13.5, "labelOffset": 28, "rowPadding": 3, "padding": 3, "fillColor": "rgba(255,255,255,0.8)", "strokeColor": "#cccccc", "cornerRadius": 3}}
      }
    },
    {
      "width": 514,
      "height": 189,
      "title": {"text": "(b) BC - eval. weeks (zoomed)"},
      "data": {"name": "bc"},
      "transform": [{"filter": "datum.week != 'Warm-up: Mar 9-15'"}],
      "encoding": {
        "x": {"field": "epoch", "type": "quantitative", "scale": {"domain": [1, 20], "nice": false, "zero": false}, "axis": {"values": [1, 3, 5, 7, 9, 11, 13, 15, 17, 19], "title": "Epoch"}},
        "y": {"field": "loss", "type": "quantitative", "scale": {"domain": [0.5, 0.92], "nice": false, "zero": false}, "axis": {"values": [0.5, 0.6, 0.7, 0.8, 0.9], "format": ".1f", "title": "BC Loss"}}
      },
      "layer": [
        {
          "mark": {"type": "line", "strokeJoin": "round"},
          "encoding": {
            "color": {"field": "week", "type": "nominal", "scale": {"range": ["#ff7f0e", "#2ca02c", "#d62728", "#9467bd"]}, "legend": null},
            "strokeDash": {"field": "week", "type": "nominal", "scale": {"domain": ["Eval. Wk 1: Mar 16-22", "Eval. Wk 2: Mar 23-29", "Eval. Wk 3: Mar 30-Apr 5", "Eval. Wk 4: Apr 6-12"], "range": [[1, 0], [9.6, 4.2], [16, 4.2, 2.6, 4.2], [2.6, 4.3]]}},
            "strokeWidth": {"field": "split", "type": "ordinal", "scale": {"domain": ["Train", "Val."], "range": [2.6, 1.2]},
              "legend": {"title": null, "orient": "none", "legendX": 6, "legendY": 141, "symbolType": "M-1,0H5", "symbolSize": 100, "symbolStrokeColor": "#7f7f7f", "labelFontSize": 13.5, "labelOffset": 28, "rowPadding": 3, "padding": 3, "fillColor": "rgba(255,255,255,0.8)", "strokeColor": "#cccccc", "cornerRadius": 3}},
            "opacity": {"field": "split", "type": "ordinal", "scale": {"domain": ["Train", "Val."], "range": [1, 0.5]},
              "legend": {"title": null, "orient": "none", "legendX": 6, "legendY": 141, "symbolType": "M-1,0H5", "symbolSize": 100, "symbolStrokeColor": "#7f7f7f", "labelFontSize": 13.5, "labelOffset": 28, "rowPadding": 3, "padding": 3, "fillColor": "rgba(255,255,255,0.8)", "strokeColor": "#cccccc", "cornerRadius": 3}}
          }
        },
        {
          "transform": [{"filter": "datum.split == 'Train' && datum.epoch % 4 == 1 && datum.week == 'Eval. Wk 1: Mar 16-22'"}],
          "mark": {"type": "point", "shape": "circle", "filled": true, "size": 45, "opacity": 1, "color": "#ff7f0e"}
        },
        {
          "transform": [{"filter": "datum.split == 'Train' && datum.epoch % 4 == 1 && datum.week == 'Eval. Wk 2: Mar 23-29'"}],
          "mark": {"type": "point", "shape": "square", "filled": true, "size": 45, "opacity": 1, "color": "#2ca02c"}
        },
        {
          "transform": [{"filter": "datum.split == 'Train' && datum.epoch % 4 == 1 && datum.week == 'Eval. Wk 3: Mar 30-Apr 5'"}],
          "mark": {"type": "point", "shape": "triangle-up", "filled": true, "size": 50, "opacity": 1, "color": "#d62728"}
        },
        {
          "transform": [{"filter": "datum.split == 'Train' && datum.epoch % 4 == 1 && datum.week == 'Eval. Wk 4: Apr 6-12'"}],
          "mark": {"type": "point", "shape": "diamond", "filled": true, "size": 60, "opacity": 1, "color": "#9467bd"}
        },
        {
          "transform": [{"filter": "datum.epoch < 0"}],
          "mark": {"type": "point", "filled": true, "opacity": 1},
          "encoding": {
            "shape": {"field": "week", "type": "nominal", "scale": {"domain": ["Eval. Wk 1: Mar 16-22", "Eval. Wk 2: Mar 23-29", "Eval. Wk 3: Mar 30-Apr 5", "Eval. Wk 4: Apr 6-12"], "range": ["M-1,0H5M2.7,0A0.7,0.7,0,1,1,1.3,0A0.7,0.7,0,1,1,2.7,0Z", "M-1,0H5M1.4,-0.6H2.6V0.6H1.4Z", "M-1,0H5M2,-0.75L2.7,0.55H1.3Z", "M-1,0H5M2,-0.85L2.65,0L2,0.85L1.35,0Z"]},
              "legend": {"title": null, "orient": "none", "legendX": 304, "legendY": 6, "symbolSize": 55, "symbolStrokeWidth": 2.6, "labelFontSize": 12.4, "labelOffset": 23, "rowPadding": -4, "padding": 3, "fillColor": "rgba(255,255,255,0.8)", "strokeColor": "#cccccc", "cornerRadius": 3}},
            "fill": {"field": "week", "type": "nominal", "scale": {"domain": ["Eval. Wk 1: Mar 16-22", "Eval. Wk 2: Mar 23-29", "Eval. Wk 3: Mar 30-Apr 5", "Eval. Wk 4: Apr 6-12"], "range": ["#ff7f0e", "#2ca02c", "#d62728", "#9467bd"]},
              "legend": {"title": null, "orient": "none", "legendX": 304, "legendY": 6, "symbolSize": 55, "symbolStrokeWidth": 2.6, "labelFontSize": 12.4, "labelOffset": 23, "rowPadding": -4, "padding": 3, "fillColor": "rgba(255,255,255,0.8)", "strokeColor": "#cccccc", "cornerRadius": 3}},
            "stroke": {"field": "week", "type": "nominal", "scale": {"domain": ["Eval. Wk 1: Mar 16-22", "Eval. Wk 2: Mar 23-29", "Eval. Wk 3: Mar 30-Apr 5", "Eval. Wk 4: Apr 6-12"], "range": ["#ff7f0e", "#2ca02c", "#d62728", "#9467bd"]},
              "legend": {"title": null, "orient": "none", "legendX": 304, "legendY": 6, "symbolSize": 55, "symbolStrokeWidth": 2.6, "labelFontSize": 12.4, "labelOffset": 23, "rowPadding": -4, "padding": 3, "fillColor": "rgba(255,255,255,0.8)", "strokeColor": "#cccccc", "cornerRadius": 3}},
            "strokeDash": {"field": "week", "type": "nominal",
              "legend": {"title": null, "orient": "none", "legendX": 304, "legendY": 6, "symbolSize": 55, "symbolStrokeWidth": 2.6, "labelFontSize": 12.4, "labelOffset": 23, "rowPadding": -4, "padding": 3, "fillColor": "rgba(255,255,255,0.8)", "strokeColor": "#cccccc", "cornerRadius": 3}}
          }
        }
      ]
    },
    {
      "width": 514,
      "height": 236,
      "title": {"text": "(c) DQN fine-tuning (50 episodes / week)"},
      "resolve": {"scale": {"y": "independent"}},
      "layer": [
        {
          "data": {"name": "q"},
          "encoding": {
            "x": {"field": "episode", "type": "quantitative", "scale": {"domain": [1, 50], "nice": false, "zero": false}, "axis": {"values": [1, 10, 20, 30, 40, 50], "title": "Fine-tuning Episode"}},
            "y": {"field": "qloss", "type": "quantitative", "scale": {"type": "log", "domain": [0.0071, 23.6], "nice": false},
              "axis": {"title": "Q-Loss (log scale)", "titleX": -58.7,
                "values": [0.008, 0.009, 0.01, 0.02, 0.03, 0.04, 0.05, 0.06, 0.07, 0.08, 0.09, 0.1, 0.2, 0.3, 0.4, 0.5, 0.6, 0.7, 0.8, 0.9, 1, 2, 3, 4, 5, 6, 7, 8, 9, 10, 20],
                "labelExpr": "abs(log(datum.value)/LN10 - round(log(datum.value)/LN10)) > 0.01 ? '' : datum.value > 5 ? '10¹' : datum.value > 0.5 ? '10⁰' : datum.value > 0.05 ? '10⁻¹' : '10⁻²'",
                "tickSize": {"condition": {"test": "abs(log(datum.value)/LN10 - round(log(datum.value)/LN10)) < 0.01", "value": 5}, "value": 2.5},
                "gridOpacity": {"condition": {"test": "abs(log(datum.value)/LN10 - round(log(datum.value)/LN10)) < 0.01", "value": 0.6}, "value": 0.35}}}
          },
          "layer": [
            {
              "mark": {"type": "line", "strokeWidth": 10, "opacity": 0.15, "strokeCap": "round", "strokeJoin": "round"},
              "encoding": {"color": {"field": "week", "type": "nominal", "scale": {"range": ["#ff7f0e", "#2ca02c", "#d62728", "#9467bd"]}, "legend": null}}
            },
            {
              "mark": {"type": "line", "strokeWidth": 3, "strokeJoin": "round"},
              "encoding": {
                "color": {"field": "week", "type": "nominal", "legend": null},
                "strokeDash": {"field": "week", "type": "nominal", "scale": {"domain": ["Eval. Wk 1: Mar 16-22", "Eval. Wk 2: Mar 23-29", "Eval. Wk 3: Mar 30-Apr 5", "Eval. Wk 4: Apr 6-12", "ε (resets each week)"], "range": [[1, 0], [11, 4.8], [18, 4.8, 3, 4.8], [3, 5], [1.8, 3]]}}
              }
            },
            {
              "transform": [{"filter": "datum.episode % 10 == 1 && datum.week == 'Eval. Wk 1: Mar 16-22'"}],
              "mark": {"type": "point", "shape": "circle", "filled": true, "size": 85, "opacity": 1, "color": "#ff7f0e"}
            },
            {
              "transform": [{"filter": "datum.episode % 10 == 1 && datum.week == 'Eval. Wk 2: Mar 23-29'"}],
              "mark": {"type": "point", "shape": "square", "filled": true, "size": 85, "opacity": 1, "color": "#2ca02c"}
            },
            {
              "transform": [{"filter": "datum.episode % 10 == 1 && datum.week == 'Eval. Wk 3: Mar 30-Apr 5'"}],
              "mark": {"type": "point", "shape": "triangle-up", "filled": true, "size": 95, "opacity": 1, "color": "#d62728"}
            },
            {
              "transform": [{"filter": "datum.episode % 10 == 1 && datum.week == 'Eval. Wk 4: Apr 6-12'"}],
              "mark": {"type": "point", "shape": "diamond", "filled": true, "size": 110, "opacity": 1, "color": "#9467bd"}
            },
            {
              "transform": [{"filter": "datum.episode < 0"}],
              "mark": {"type": "point", "filled": true, "opacity": 1},
              "encoding": {
                "shape": {"field": "week", "type": "nominal", "scale": {"domain": ["Eval. Wk 1: Mar 16-22", "Eval. Wk 2: Mar 23-29", "Eval. Wk 3: Mar 30-Apr 5", "Eval. Wk 4: Apr 6-12", "ε (resets each week)"], "range": ["M-1,0H4.4M2.7,0A1,1,0,1,1,0.7,0A1,1,0,1,1,2.7,0Z", "M-1,0H4.4M0.85,-0.85H2.55V0.85H0.85Z", "M-1,0H4.4M1.7,-1L2.65,0.75H0.75Z", "M-1,0H4.4M1.7,-1.1L2.5,0L1.7,1.1L0.9,0Z", "M-1,0H4.4"]},
                  "legend": {"title": null, "orient": "none", "legendX": 301, "legendY": 6, "symbolSize": 55, "symbolStrokeWidth": 3, "labelFontSize": 12.4, "labelOffset": 26, "rowPadding": -6, "padding": 3, "fillColor": "rgba(255,255,255,0.8)", "strokeColor": "#cccccc", "cornerRadius": 3}},
                "fill": {"field": "week", "type": "nominal", "scale": {"domain": ["Eval. Wk 1: Mar 16-22", "Eval. Wk 2: Mar 23-29", "Eval. Wk 3: Mar 30-Apr 5", "Eval. Wk 4: Apr 6-12", "ε (resets each week)"], "range": ["#ff7f0e", "#2ca02c", "#d62728", "#9467bd", "#333333"]},
                  "legend": {"title": null, "orient": "none", "legendX": 301, "legendY": 6, "symbolSize": 55, "symbolStrokeWidth": 3, "labelFontSize": 12.4, "labelOffset": 26, "rowPadding": -6, "padding": 3, "fillColor": "rgba(255,255,255,0.8)", "strokeColor": "#cccccc", "cornerRadius": 3}},
                "stroke": {"field": "week", "type": "nominal", "scale": {"domain": ["Eval. Wk 1: Mar 16-22", "Eval. Wk 2: Mar 23-29", "Eval. Wk 3: Mar 30-Apr 5", "Eval. Wk 4: Apr 6-12", "ε (resets each week)"], "range": ["#ff7f0e", "#2ca02c", "#d62728", "#9467bd", "#333333"]},
                  "legend": {"title": null, "orient": "none", "legendX": 301, "legendY": 6, "symbolSize": 55, "symbolStrokeWidth": 3, "labelFontSize": 12.4, "labelOffset": 26, "rowPadding": -6, "padding": 3, "fillColor": "rgba(255,255,255,0.8)", "strokeColor": "#cccccc", "cornerRadius": 3}},
                "strokeDash": {"field": "week", "type": "nominal",
                  "legend": {"title": null, "orient": "none", "legendX": 301, "legendY": 6, "symbolSize": 55, "symbolStrokeWidth": 3, "labelFontSize": 12.4, "labelOffset": 26, "rowPadding": -6, "padding": 3, "fillColor": "rgba(255,255,255,0.8)", "strokeColor": "#cccccc", "cornerRadius": 3}}
              }
            }
          ]
        },
        {
          "data": {"name": "eps"},
          "mark": {"type": "line", "color": "#333333", "strokeWidth": 1.8, "strokeDash": [1.8, 3]},
          "encoding": {
            "x": {"field": "episode", "type": "quantitative"},
            "y": {"field": "eps", "type": "quantitative", "scale": {"domain": [0, 1.15], "nice": false, "zero": false}, "axis": {"orient": "right", "values": [0.2, 0.4, 0.6, 0.8, 1.0], "format": ".1f", "grid": false, "title": "ε (exploration rate)"}}
          }
        }
      ]
    }
  ]
}
